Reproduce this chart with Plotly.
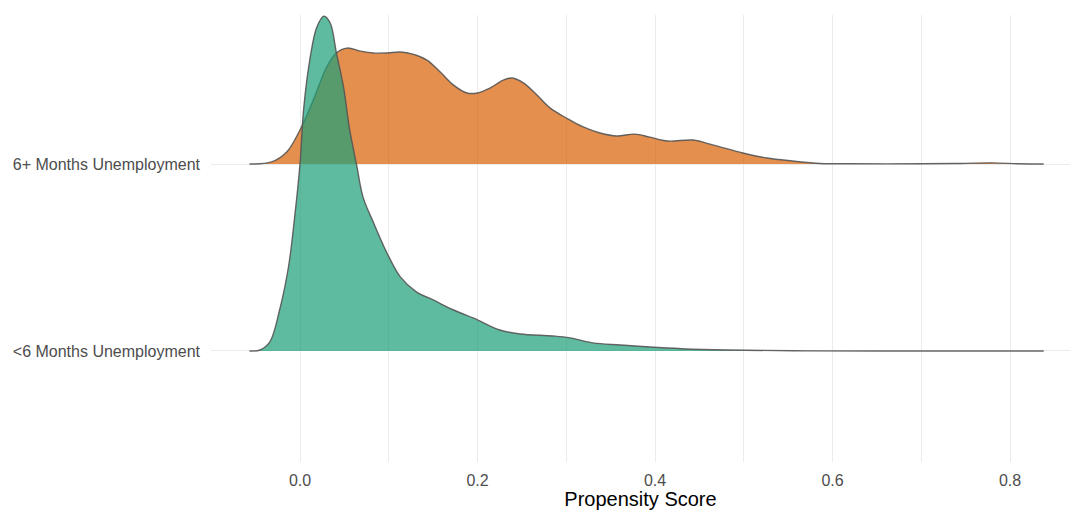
import plotly.graph_objects as go

# Categories (bottom to top)
categories = ["<6 Months Unemployment", "6+ Months Unemployment"]

# Scaled density ridges (height above each category baseline, in category units)
x_long = [-0.057, -0.032, -0.015, 0.0, 0.015, 0.030, 0.041, 0.053, 0.068, 0.082, 0.098,
          0.113, 0.127, 0.143, 0.158, 0.173, 0.188, 0.200, 0.214, 0.229, 0.239, 0.252,
          0.267, 0.282, 0.300, 0.319, 0.338, 0.357, 0.377, 0.394, 0.414, 0.443, 0.465,
          0.499, 0.526, 0.555, 0.586, 0.620, 0.700, 0.744, 0.780, 0.810, 0.838]
h_long = [0.0, 0.011, 0.064, 0.182, 0.342, 0.519, 0.594, 0.620, 0.604, 0.594, 0.594,
          0.599, 0.588, 0.556, 0.492, 0.422, 0.380, 0.380, 0.406, 0.449, 0.460, 0.433,
          0.369, 0.299, 0.246, 0.198, 0.166, 0.150, 0.160, 0.144, 0.123, 0.128, 0.102,
          0.059, 0.032, 0.016, 0.003, 0.001, 0.001, 0.003, 0.006, 0.001, 0.0]

x_short = [-0.057, -0.045, -0.034, -0.023, -0.013, -0.006, 0.0, 0.004, 0.011, 0.019,
           0.027, 0.034, 0.041, 0.049, 0.056, 0.064, 0.071, 0.083, 0.098, 0.113, 0.131,
           0.150, 0.173, 0.200, 0.225, 0.248, 0.285, 0.304, 0.330, 0.361, 0.394, 0.430,
           0.481, 0.556, 0.650, 0.838]
h_short = [0.0, 0.005, 0.048, 0.219, 0.449, 0.717, 1.0, 1.289, 1.556, 1.733,
           1.791, 1.754, 1.594, 1.412, 1.182, 0.989, 0.823, 0.684, 0.524, 0.396, 0.316,
           0.273, 0.219, 0.166, 0.112, 0.091, 0.080, 0.070, 0.043, 0.032, 0.021, 0.012,
           0.005, 0.001, 0.0, 0.0]

tick_vals = [0.0, 0.2, 0.4, 0.6, 0.8]
tick_text = ["0.0", "0.2", "0.4", "0.6", "0.8"]

fill_colors = {"6+ Months Unemployment": "rgba(217,95,2,0.7)",
               "<6 Months Unemployment": "rgba(27,158,119,0.7)"}
line_color = "rgba(85,85,85,0.9)"

fig = go.Figure()

ridges = [
    ("6+ Months Unemployment", 2, x_long, h_long),
    ("<6 Months Unemployment", 1, x_short, h_short),
]
for name, base, xs, hs in ridges:
    fig.add_trace(go.Scatter(x=xs, y=[base] * len(xs), mode="lines",
                             line=dict(width=0), hoverinfo="skip", showlegend=False))
    fig.add_trace(go.Scatter(x=xs, y=[base + h for h in hs], mode="lines",
                             line=dict(color=line_color, width=1.4, shape="spline", smoothing=1.0),
                             fill="tonexty", fillcolor=fill_colors[name],
                             name=name, showlegend=False))

fig.update_layout(
    width=1070, height=510,
    margin=dict(l=211, r=0, t=15, b=48),
    paper_bgcolor="white", plot_bgcolor="white",
    font=dict(family="Liberation Sans, Arial, sans-serif", size=16, color="#4D4D4D"),
    showlegend=False,
)
fig.update_xaxes(
    range=[-0.1003, 0.8676],
    tickvals=tick_vals, ticktext=tick_text,
    showgrid=True, gridcolor="#EBEBEB", gridwidth=1.2,
    minor=dict(dtick=0.1, tick0=0, showgrid=True, gridcolor="#EBEBEB", gridwidth=1),
    zeroline=False, showline=False, ticks="", ticklabelstandoff=7,
    tickfont=dict(size=16, color="#4D4D4D"),
    title=dict(text="Propensity Score", font=dict(size=20, color="black"), standoff=3),
    automargin=False,
)
fig.update_yaxes(
    range=[0.406, 2.797],
    tickvals=[1, 2], ticktext=categories,
    showgrid=True, gridcolor="#EBEBEB", gridwidth=1.2,
    zeroline=False, showline=False, ticks="", ticklabelstandoff=10,
    tickfont=dict(size=16, color="#4D4D4D"),
    automargin=False,
)

fig.write_html("out.html")
